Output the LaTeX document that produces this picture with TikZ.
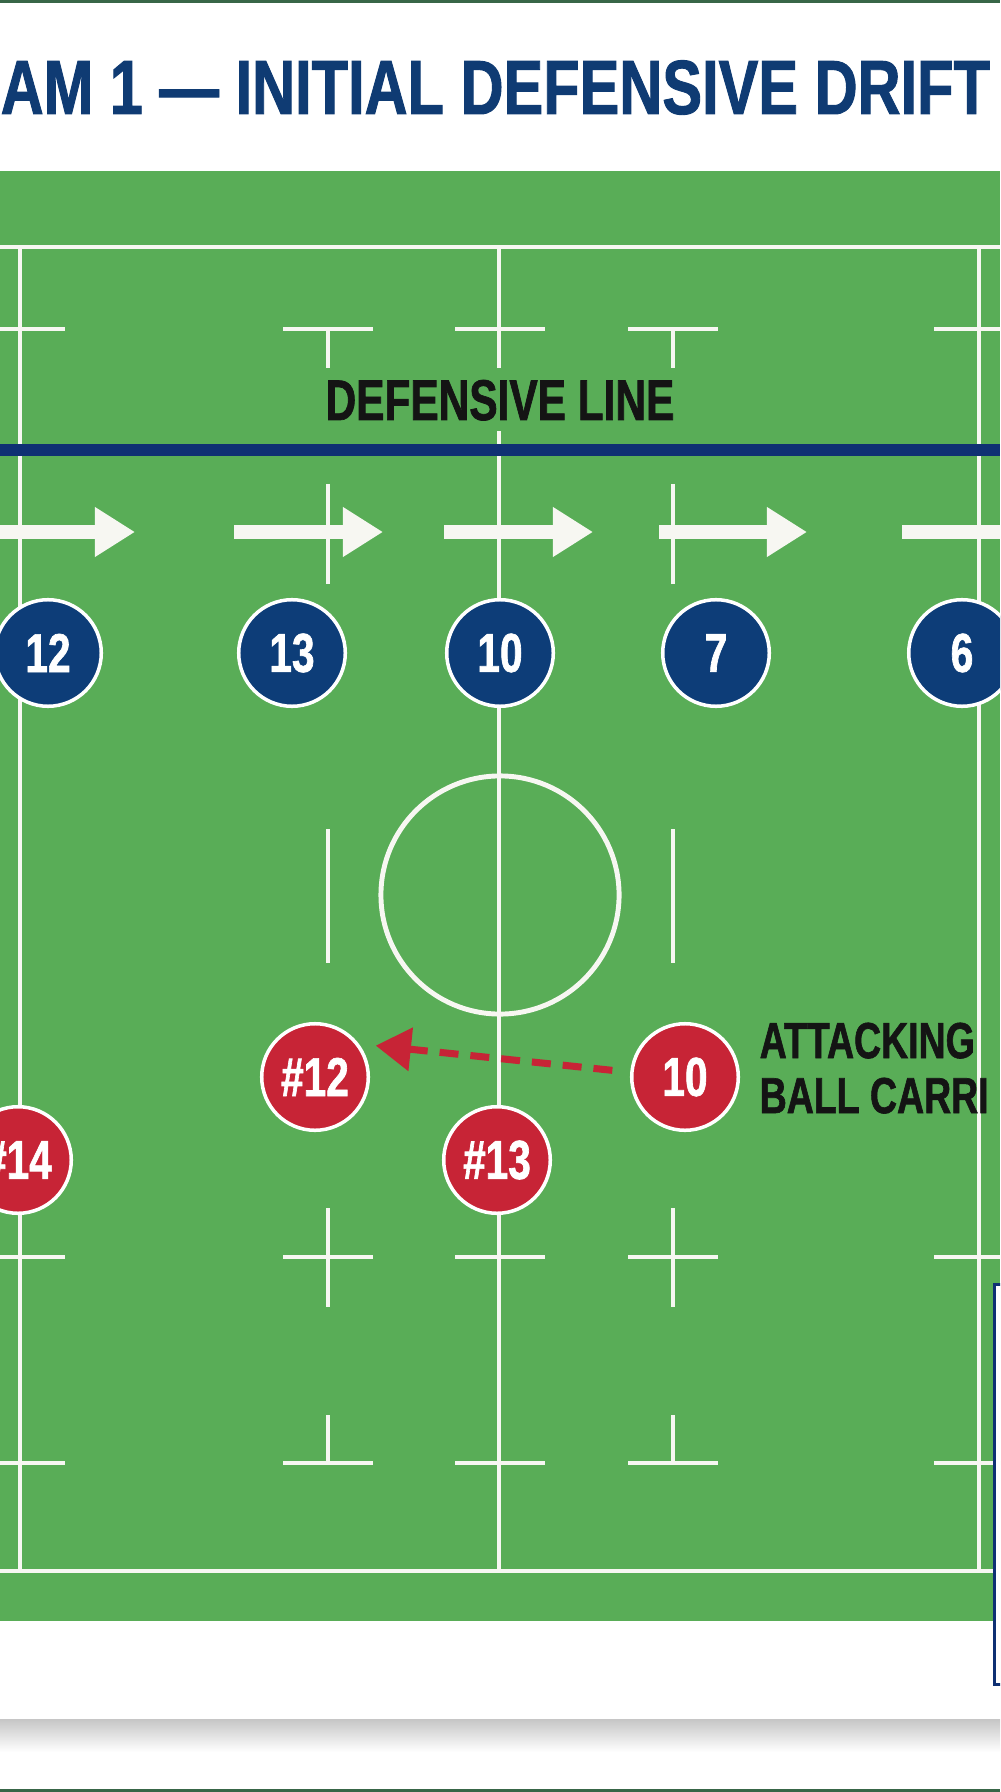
\documentclass[tikz,border=0pt]{standalone}
\usepackage{fontspec}
\usepackage{tikz}
\usetikzlibrary{positioning}
\usetikzlibrary{arrows.meta}
\newfontfamily\condFont{Liberation Sans}[FakeStretch=0.74,FakeBold=1.2]
\newfontfamily\condTitleFont{Liberation Sans}[FakeStretch=0.775,FakeBold=1.2]
\definecolor{pitchGreen}{rgb}{0.35,0.68,0.34}
\definecolor{lineWhite}{rgb}{0.97,0.97,0.95}
\definecolor{defenceBlue}{rgb}{0.05,0.24,0.47}
\definecolor{lineBlue}{rgb}{0.06,0.19,0.45}
\definecolor{titleBlue}{rgb}{0.06,0.23,0.45}
\definecolor{attackRed}{rgb}{0.78,0.14,0.21}
\definecolor{frameGreen}{rgb}{0.22,0.40,0.28}

\begin{document}
\begin{tikzpicture}[x=0.01cm,y=-0.01cm]

          \tikzstyle{pitchLine} = [lineWhite, line width=1.3pt];
          \tikzstyle{defender} = [circle, fill=defenceBlue, draw=white, line width=1pt, inner sep=0pt, minimum size=1.065cm, text=white, font=\condFont\bfseries\fontsize{15.6}{18}\selectfont];
          \tikzstyle{attacker} = [defender, fill=attackRed];
          \tikzstyle{driftArrow} = [lineWhite, line width=4pt, -{Triangle[length=11.4pt,width=13.4pt]}];
          \tikzstyle{passArrow} = [attackRed, line width=2pt, dash pattern=on 5.4pt off 3.4pt, -{Triangle[length=10pt,width=12pt]}];

          \useasboundingbox (0,0) rectangle (1000,1792);
          \clip (0,0) rectangle (1000,1792);
          \fill[white] (0,0) rectangle (1000,1792);
          \fill[frameGreen] (0,0) rectangle (1000,3);
          \fill[frameGreen] (0,1789) rectangle (1000,1792);
          \shade[top color=gray!45, bottom color=white] (0,1719) rectangle (1000,1752);
          \fill[pitchGreen] (0,171) rectangle (1000,1621);

          \node[anchor=base west, inner sep=0pt, text=titleBlue, font=\condTitleFont\bfseries\fontsize{21.85}{26}\selectfont] (title) at (0,114) {AM 1 — INITIAL DEFENSIVE DRIFT};

          \draw[pitchLine] (0,247) -- (1000,247);
          \draw[pitchLine] (0,1571) -- (1000,1571);
          \draw[pitchLine] (20,247) -- (20,1571);
          \draw[pitchLine] (499,247) -- (499,1571);
          \draw[pitchLine] (979,247) -- (979,1571);
          \draw[pitchLine, line width=1.4pt] (500,895) circle[radius=1.19cm];
          \draw[pitchLine] (-25,329) -- (65,329) (283,329) -- (373,329) (455,329) -- (545,329) (628,329) -- (718,329) (934,329) -- (1024,329);
          \draw[pitchLine] (-25,1257) -- (65,1257) (283,1257) -- (373,1257) (455,1257) -- (545,1257) (628,1257) -- (718,1257) (934,1257) -- (1024,1257);
          \draw[pitchLine] (-25,1463) -- (65,1463) (283,1463) -- (373,1463) (455,1463) -- (545,1463) (628,1463) -- (718,1463) (934,1463) -- (1024,1463);
          \draw[pitchLine] (328,329) -- (328,368) (673,329) -- (673,368)
            (328,484) -- (328,584) (673,484) -- (673,584)
            (328,829) -- (328,963) (673,829) -- (673,963)
            (328,1208) -- (328,1307) (673,1208) -- (673,1307)
            (328,1415) -- (328,1463) (673,1415) -- (673,1463);

          \draw[lineBlue, line width=3.4pt] (0,450) -- (1000,450);
          \node[fill=pitchGreen, anchor=base, text height=0.41cm, text depth=0cm, inner xsep=0.1cm, inner ysep=0.11cm, text=black!92, font=\condFont\bfseries\fontsize{16.3}{19}\selectfont] (defLabel) at (500,420) {DEFENSIVE LINE};

          \coordinate (drift1a) at (-15,532);
          \coordinate (drift1b) at (135,532);
          \coordinate (drift2a) at (234,532);
          \coordinate (drift2b) at (383,532);
          \coordinate (drift3a) at (444,532);
          \coordinate (drift3b) at (593,532);
          \coordinate (drift4a) at (659,532);
          \coordinate (drift4b) at (807,532);
          \coordinate (drift5a) at (902,532);
          \coordinate (drift5b) at (1052,532);
          \draw[driftArrow] (drift1a) -- (drift1b);
          \draw[driftArrow] (drift2a) -- (drift2b);
          \draw[driftArrow] (drift3a) -- (drift3b);
          \draw[driftArrow] (drift4a) -- (drift4b);
          \draw[driftArrow] (drift5a) -- (drift5b);

          \node[defender] (d12) at (48,653) {12};
          \node[defender] (d13) at (292,653) {13};
          \node[defender] (d10) at (500,653) {10};
          \node[defender] (d7) at (716,653) {7};
          \node[defender] (d6) at (962,653) {6};

          \node[attacker] (a12) at (315,1077) {\#12};
          \node[attacker] (a10) at (685,1077) {10};
          \node[attacker] (a13) at (497,1160) {\#13};
          \node[attacker] (a14) at (18,1160) {\#14};

          \draw[passArrow, shorten <=5.1pt, shorten >=4.8pt] (a10.175) -- (a12.37);

          \node[anchor=north west, inner sep=0pt, align=left, text=black!92, font=\condFont\bfseries\fontsize{14.4}{15.65}\selectfont] (carrierLabel) at (759,1022) {ATTACKING\\BALL CARRI};

          \draw[lineBlue, line width=0.85pt, fill=white] (994,1284) rectangle (1030,1684);
        \end{tikzpicture}
\end{document}
